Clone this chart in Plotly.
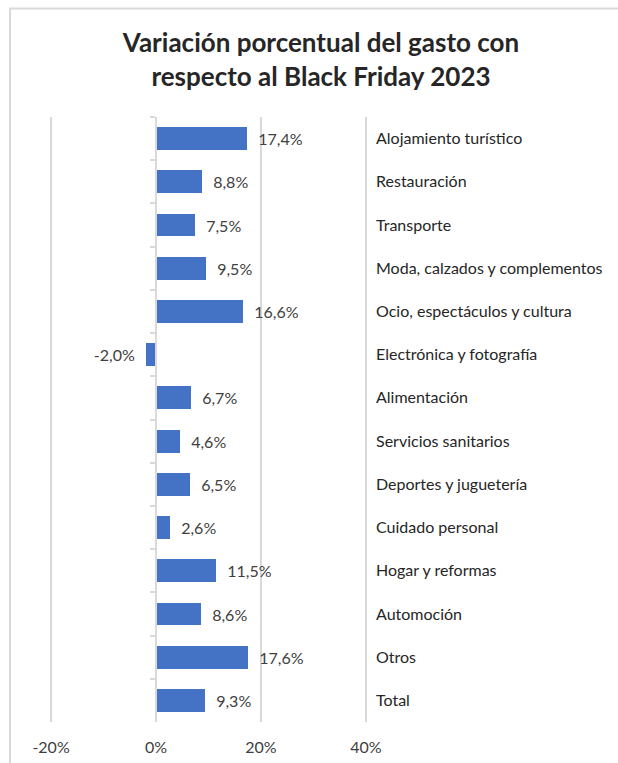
import plotly.graph_objects as go

categories = [
    "Alojamiento turístico",
    "Restauración",
    "Transporte",
    "Moda, calzados y complementos",
    "Ocio, espectáculos y cultura",
    "Electrónica y fotografía",
    "Alimentación",
    "Servicios sanitarios",
    "Deportes y juguetería",
    "Cuidado personal",
    "Hogar y reformas",
    "Automoción",
    "Otros",
    "Total",
]
values = [17.4, 8.8, 7.5, 9.5, 16.6, -2.0, 6.7, 4.6, 6.5, 2.6, 11.5, 8.6, 17.6, 9.3]
x_ticks = [-20, 0, 20, 40]
x_tick_labels = ["-20%", "0%", "20%", "40%"]
title_text = "Variación porcentual del gasto con<br>respecto al Black Friday 2023"

# Value labels in Spanish decimal notation, padded away from the bar end
NBSP = "\u00a0"
labels = [
    (NBSP * 2 + f"{v:.1f}%".replace(".", ",")) if v >= 0
    else (f"{v:.1f}%".replace(".", ",") + NBSP * 2)
    for v in values
]

W, H = 618, 763
L, R, T, B = 50, 251, 117, 41
x_min, x_max = -20.2, 40.2

FONT = "Lato, Carlito, 'Open Sans', sans-serif"
TEXT_COLOR = "#404040"
GRID = "#d9d9d9"

fig = go.Figure()

# Bars, anchored to the vertical axis that sits on 0%
fig.add_trace(go.Bar(
    x=values,
    y=categories,
    orientation="h",
    marker=dict(color="#4472C4", line=dict(width=0)),
    width=0.53,
    text=labels,
    textposition="outside",
    textfont=dict(family=FONT, size=16, color=TEXT_COLOR),
    cliponaxis=False,
    yaxis="y",
    hoverinfo="skip",
))

# Invisible companion trace that carries the category labels on the right
fig.add_trace(go.Scatter(
    x=values,
    y=categories,
    mode="markers",
    marker=dict(opacity=0),
    yaxis="y2",
    hoverinfo="skip",
    showlegend=False,
))

zero_pos = (0 - x_min) / (x_max - x_min)
cat_range = [len(categories) - 0.5, -0.5]

# Chart frame in paper coordinates
plot_w = W - L - R
plot_h = H - T - B
def px_x(p):
    return (p - L) / plot_w
def px_y(p):
    return (H - B - p) / plot_h

fig.add_shape(
    type="rect", xref="paper", yref="paper",
    x0=px_x(10), x1=px_x(W + 20), y0=px_y(H + 20), y1=px_y(8.5),
    line=dict(color=GRID, width=2), fillcolor="rgba(0,0,0,0)", layer="below",
)

fig.update_layout(
    width=W, height=H,
    margin=dict(l=L, r=R, t=T, b=B, autoexpand=False),
    paper_bgcolor="white", plot_bgcolor="white",
    showlegend=False,
    title=dict(
        text=title_text,
        x=321 / W, xref="container", xanchor="center",
        y=1 - 52 / H, yref="container", yanchor="middle",
        font=dict(family=FONT, size=26, color="#262626", weight="bold"),
    ),
    bargap=0,
    xaxis=dict(
        range=[x_min, x_max],
        tickvals=x_ticks,
        ticktext=x_tick_labels,
        showgrid=True, gridcolor=GRID, gridwidth=2,
        zeroline=False, showline=False,
        ticks="", ticklabelstandoff=14, automargin=False,
        tickfont=dict(family=FONT, size=16, color=TEXT_COLOR),
        fixedrange=True,
    ),
    yaxis=dict(
        type="category",
        categoryorder="array", categoryarray=categories,
        range=cat_range,
        anchor="free", position=zero_pos, side="left",
        showline=True, linecolor=GRID, linewidth=2,
        ticks="outside", tickson="boundaries", ticklen=5, tickcolor=GRID, tickwidth=2,
        showticklabels=False, showgrid=False, zeroline=False, automargin=False,
    ),
    yaxis2=dict(
        type="category",
        categoryorder="array", categoryarray=categories,
        range=cat_range,
        overlaying="y", side="right", anchor="x",
        showline=False, showgrid=False, zeroline=False, ticks="",
        ticklabelstandoff=8, automargin=False,
        tickfont=dict(family=FONT, size=16, color="#262626"),
    ),
)

fig.write_html("out.html")
